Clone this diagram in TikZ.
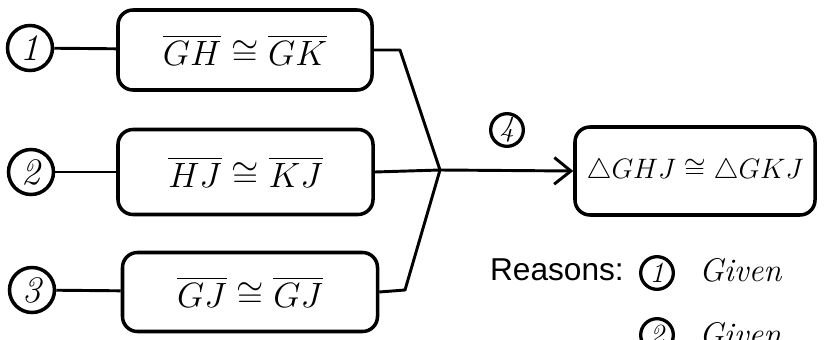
\documentclass[tikz,border=0pt]{standalone}
\usepackage{fix-cm}
\usepackage{amsmath,amssymb}
\usepackage{fontspec}
\usetikzlibrary{arrows.meta}
\newfontfamily\arialfont{Liberation Sans}
\begin{document}
\begin{tikzpicture}[x=0.03cm,y=-0.03cm,
  stmt/.style={draw,line width=3pt,rounded corners=0.45cm,inner sep=0pt,font=\fontsize{30}{34}\selectfont},
  num/.style={draw,circle,line width=3pt,inner sep=0pt,minimum size=1.35cm,font=\fontsize{32}{34}\selectfont\itshape},
  snum/.style={draw,circle,line width=2.8pt,inner sep=0pt,minimum size=0.98cm,font=\fontsize{25}{27}\selectfont\itshape},
  conn/.style={line width=2.5pt},
  hand/.style={font=\fontsize{28}{30}\selectfont\itshape}]
\useasboundingbox (0,0) rectangle (824,339);
\clip (0,0) rectangle (824,339);
% statements
\node[stmt,minimum width=7.62cm,minimum height=2.4cm] (s1) at (245,50) {$\overline{GH}\cong\overline{GK}$};
\node[stmt,minimum width=7.65cm,minimum height=2.55cm] (s2) at (245.5,172) {$\overline{HJ}\cong\overline{KJ}$};
\node[stmt,minimum width=7.65cm,minimum height=2.37cm] (s3) at (250,292) {$\overline{GJ}\cong\overline{GJ}$};
\node[stmt,minimum width=7.2cm,minimum height=2.64cm,font=\fontsize{24}{28}\selectfont] (s4) at (695,171) {$\triangle GHJ\cong\triangle GKJ$};
% numbers
\node[num] (n1) at (30,48) {1};
\node[num] (n2) at (31,172) {2};
\node[num] (n3) at (32,290) {3};
\node[snum] (n4) at (507,130) {4};
\draw[conn] (n1) -- (s1);
\draw[conn] (n2) -- (s2);
\draw[conn] (n3) -- (s3);
% junction
\coordinate (j) at (440,170);
\coordinate (b1) at (400,50);
\coordinate (b3) at (405,290);
\draw[conn,line join=round] (s1.east) -- (b1) -- (j);
\draw[conn,line join=round] (s3.east) -- (b3) -- (j);
\draw[conn] (s2.east) -- (j);
\draw[conn,-{Straight Barb[length=0.5cm,width=0.8cm,line width=2.5pt]}] (j) -- (s4.west);
% reasons
\node[anchor=west,font=\arialfont\fontsize{27}{29}\selectfont] (rs) at (486,270) {Reasons:};
\node[snum] (r1) at (657,273) {1};
\node[hand,anchor=west] (g1) at (695,270) {Given};
\node[snum] (r2) at (657,335) {2};
\node[hand,anchor=west] (g2) at (695,334) {Given};
\end{tikzpicture}
\end{document}
